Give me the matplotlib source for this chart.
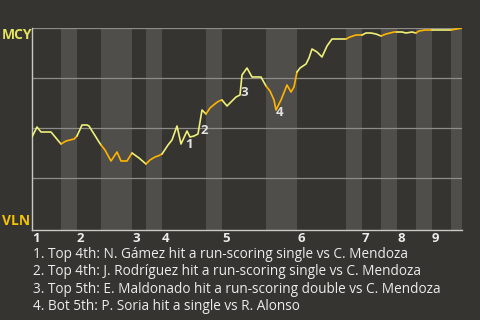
import matplotlib
matplotlib.use("Agg")
import matplotlib.pyplot as plt

# play progress (x) and MCY win probability in percent (y)
progress = [0, 5, 9, 19, 29, 34, 38, 42, 45, 50, 55, 57, 62, 67, 69, 73, 79, 85, 89, 95,
            100, 107, 114, 118, 123, 126, 130, 136, 140, 145, 149, 155, 158, 162, 166, 170,
            174, 178, 184, 187, 190, 195, 204, 208, 210, 215, 220, 229, 234, 238, 242, 244,
            249, 255, 259, 262, 265, 268, 274, 277, 280, 285, 290, 295, 300, 314, 318, 324,
            330, 334, 339, 344, 349, 354, 362, 365, 370, 374, 380, 384, 387, 393, 400, 419, 430]
win_prob = [45.5, 50.5, 48, 48, 42, 43.5, 44, 44.5, 46, 51.5, 51.5, 51, 47, 43, 41.5, 39, 33.5, 38, 33.5, 33.5,
            37.5, 35, 32, 34, 35.5, 36, 37, 41.5, 44, 51, 42, 48.5, 45.5, 46, 47, 59,
            57, 60, 62.5, 63.5, 64, 61, 65.5, 66.5, 76.5, 80, 75.5, 75.5, 71, 68.5, 64, 59,
            64, 71.5, 68, 70.5, 78, 80, 82, 85, 89.5, 88, 85.5, 91, 94.5, 94.5, 95.5, 96.5,
            96.5, 97.5, 97.5, 97, 96, 97, 98, 98, 98, 97.5, 98, 97.5, 98.5, 99, 99, 99, 100]

# half-inning boundaries on the progress scale
half_innings = [0, 29, 45, 69, 100, 114, 130, 174, 190, 234, 265, 314, 330, 349, 365, 384, 400, 419, 430]
innings = ["1", "2", "3", "4", "5", "6", "7", "8", "9"]

event_labels = ["1", "2", "3", "4"]
event_x = [157, 172, 212, 248]
event_y = [41.5, 48.5, 67.5, 57.5]
event_text = [
    "1. Top 4th: N. Gámez hit a run-scoring single vs C. Mendoza",
    "2. Top 4th: J. Rodríguez hit a run-scoring single vs C. Mendoza",
    "3. Top 5th: E. Maldonado hit a run-scoring double vs C. Mendoza",
    "4. Bot 5th: P. Soria hit a single vs R. Alonso",
]

bg = "#353430"
band = "#4f4e4b"
yellow = "#eef07a"
orange = "#ffb400"

plt.rcParams["font.family"] = ["Open Sans", "DejaVu Sans"]

fig = plt.figure(figsize=(4.8, 3.2), dpi=100, facecolor=bg)
ax = fig.add_axes([32 / 480, 1 - 230 / 320, 430 / 480, 202 / 320])
ax.set_facecolor(bg)
ax.set_xlim(0, 430)
ax.set_ylim(-1, 100)

# shaded bottom halves
for i in range(1, len(half_innings) - 1, 2):
    ax.axvspan(half_innings[i], half_innings[i + 1], color=band, lw=0, zorder=0)

for g in [25, 50, 75, 100]:
    ax.axhline(g, color="#8d8c89", lw=0.9, zorder=1)

# line coloured by which team is batting
for i in range(len(half_innings) - 1):
    a, b = half_innings[i], half_innings[i + 1]
    xs = [x for x in progress if a <= x <= b]
    ys = [y for x, y in zip(progress, win_prob) if a <= x <= b]
    ax.plot(xs, ys, color=yellow if i % 2 == 0 else orange, lw=1.2,
            solid_capstyle="round", solid_joinstyle="round", zorder=3)

for lbl, x, y in zip(event_labels, event_x, event_y):
    ax.text(x, y, lbl, color="#e2e2e2", fontsize=9.5, fontweight="bold",
            ha="center", va="center", zorder=4)

for s in ["top", "right"]:
    ax.spines[s].set_visible(False)
for s in ["left", "bottom"]:
    ax.spines[s].set_color("#c8c8c4")
    ax.spines[s].set_linewidth(1.0)

ax.set_yticks([])
ax.set_xticks(half_innings[0:-1:2])
ax.set_xticklabels(innings)
ax.tick_params(axis="x", length=0, pad=1.5, colors="#ececec", labelsize=9.5)
for t in ax.get_xticklabels():
    t.set_ha("left")
    t.set_fontweight("bold")

fig.text(2 / 480, 1 - 35 / 320, "MCY", color="#e4e45e", fontsize=10, fontweight="bold",
         ha="left", va="center")
fig.text(2 / 480, 1 - 221 / 320, "VLN", color="#f5c200", fontsize=10, fontweight="bold",
         ha="left", va="center")

for k, txt in enumerate(event_text):
    fig.text(33 / 480, 1 - (254 + 17.6 * k) / 320, txt, color="#ececec", fontsize=9.8,
             ha="left", va="center")

fig.savefig("out.png", dpi=100, facecolor=bg)
